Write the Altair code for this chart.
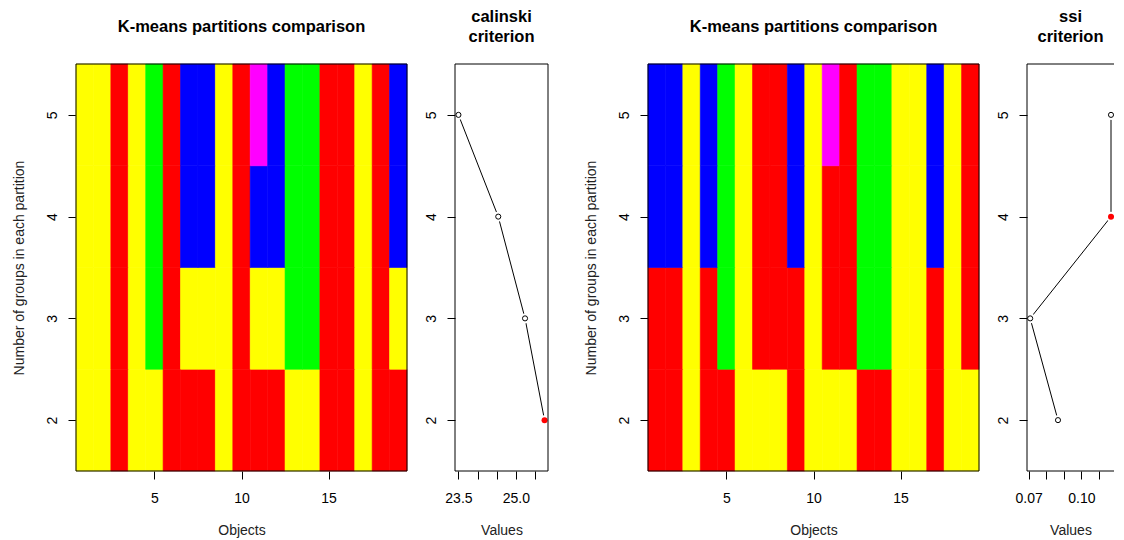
import altair as alt
import pandas as pd

FONT = "Liberation Sans"

# ---------------- data ----------------
objects = list(range(1, 20))
groups = [2, 3, 4, 5]

# cluster colour of every object for k = 2..5 groups (left comparison)
left_k2 = ["Y", "Y", "R", "Y", "Y", "R", "R", "R", "Y", "R", "R", "R", "Y", "Y", "R", "R", "Y", "R", "R"]
left_k3 = ["Y", "Y", "R", "Y", "G", "R", "Y", "Y", "Y", "R", "Y", "Y", "G", "G", "R", "R", "Y", "R", "Y"]
left_k4 = ["Y", "Y", "R", "Y", "G", "R", "B", "B", "Y", "R", "B", "B", "G", "G", "R", "R", "Y", "R", "B"]
left_k5 = ["Y", "Y", "R", "Y", "G", "R", "B", "B", "Y", "R", "M", "B", "G", "G", "R", "R", "Y", "R", "B"]

# cluster colour of every object for k = 2..5 groups (right comparison)
right_k2 = ["R", "R", "Y", "R", "R", "Y", "Y", "Y", "R", "Y", "Y", "Y", "R", "R", "Y", "Y", "R", "Y", "Y"]
right_k3 = ["R", "R", "Y", "R", "G", "Y", "R", "R", "R", "Y", "R", "R", "G", "G", "Y", "Y", "R", "Y", "R"]
right_k4 = ["B", "B", "Y", "B", "G", "Y", "R", "R", "B", "Y", "R", "R", "G", "G", "Y", "Y", "B", "Y", "R"]
right_k5 = ["B", "B", "Y", "B", "G", "Y", "R", "R", "B", "Y", "M", "R", "G", "G", "Y", "Y", "B", "Y", "R"]

colour_keys = ["R", "Y", "G", "B", "M"]
colour_values = ["#FF0000", "#FFFF00", "#00FF00", "#0000FF", "#FF00FF"]

calinski_values = [25.75, 25.24, 24.54, 23.50]   # k = 2, 3, 4, 5
calinski_best = 2
calinski_ticks = [23.5, 24.0, 24.5, 25.0, 25.5]
calinski_tick_labels = ["23.5", "", "", "25.0", ""]
calinski_domain = [23.41, 25.84]

ssi_values = [0.0867, 0.0709, 0.1168, 0.1168]    # k = 2, 3, 4, 5
ssi_best = 4
ssi_ticks = [0.07, 0.08, 0.09, 0.10, 0.11]
ssi_tick_labels = ["0.07", "", "", "0.10", ""]
ssi_domain = [0.0691, 0.1185]

object_ticks = [5, 10, 15]

# ---------------- layout constants ----------------
PLOT_H = 407
HEAT_W = 331
CAL_W = 93
SSI_W = 87
GAP = 48
SPACER_W = 4
X_TITLE_Y = 63


def label_expr(ticks, labels):
    expr = "''"
    for t, l in reversed(list(zip(ticks, labels))):
        expr = f"abs(datum.value - {t}) < 1e-9 ? '{l}' : ({expr})"
    return expr


def y_axis(with_title):
    kw = dict(values=groups, format="d", labelAngle=270, labelAlign="center",
              labelBaseline="alphabetic", labelPadding=12, tickSize=8)
    if with_title:
        kw.update(title="Number of groups in each partition", titleX=-57, titleY=PLOT_H / 2,
                  titleAngle=270, titleAlign="center", titleBaseline="middle")
    else:
        kw.update(title=None)
    return alt.Axis(**kw)


def x_axis(values, title, width, expr=None):
    kw = dict(values=values, labelBaseline="alphabetic", labelPadding=23.5, tickSize=8,
              labelAlign="center", title=title, titleX=width / 2, titleY=X_TITLE_Y,
              titleAlign="center", titleBaseline="alphabetic")
    if expr is not None:
        kw["labelExpr"] = expr
    else:
        kw["format"] = "d"
    return alt.Axis(**kw)


def frame(width):
    return alt.Chart(alt.Data(values=[{"f": 1}])).mark_rect(
        filled=False, stroke="black", strokeWidth=1
    ).encode(x=alt.value(0), x2=alt.value(width), y=alt.value(0), y2=alt.value(PLOT_H))


def heat_panel(rows_by_k):
    records = []
    for k, row in zip(groups, rows_by_k):
        for obj, c in zip(objects, row):
            records.append({"obj": obj, "k": k, "cl": c})
    df = pd.DataFrame(records)
    rects = alt.Chart(df).transform_calculate(
        x0="datum.obj - 0.5", x1="datum.obj + 0.5",
        y0="datum.k - 0.5", y1="datum.k + 0.5",
    ).mark_rect(strokeWidth=0.6).encode(
        x=alt.X("x0:Q", scale=alt.Scale(domain=[0.5, 19.5], nice=False, zero=False),
                axis=x_axis(object_ticks, "Objects", HEAT_W)),
        x2="x1:Q",
        y=alt.Y("y0:Q", scale=alt.Scale(domain=[1.5, 5.5], nice=False, zero=False),
                axis=y_axis(True)),
        y2="y1:Q",
        color=alt.Color("cl:N", scale=alt.Scale(domain=colour_keys, range=colour_values), legend=None),
        stroke=alt.Stroke("cl:N", scale=alt.Scale(domain=colour_keys, range=colour_values), legend=None),
    )
    return alt.layer(rects, frame(HEAT_W)).properties(
        width=HEAT_W, height=PLOT_H,
        title=alt.TitleParams(text="K-means partitions comparison", font=FONT, fontSize=16.5,
                              fontWeight="bold", color="black", anchor="middle", frame="group",
                              baseline="bottom", offset=12),
    )


def crit_panel(values, best, ticks, tick_labels, domain, name, width, open_right):
    df = pd.DataFrame({"k": groups, "v": values, "best": [k == best for k in groups]})
    base = alt.Chart(df).encode(
        x=alt.X("v:Q", scale=alt.Scale(domain=domain, nice=False, zero=False),
                axis=x_axis(ticks, "Values", width, label_expr(ticks, tick_labels))),
        y=alt.Y("k:Q", scale=alt.Scale(domain=[1.5, 5.5], nice=False, zero=False),
                axis=y_axis(False)),
    )
    line = base.mark_line(color="black", strokeWidth=1, clip=True).encode(order="k:Q")
    gaps = base.mark_point(shape="circle", filled=True, color="white", size=100,
                           opacity=1, strokeWidth=0, clip=True)
    opens = base.transform_filter("!datum.best").mark_point(
        shape="circle", filled=False, color="black", size=26, strokeWidth=1, opacity=1, clip=True)
    bestpt = base.transform_filter("datum.best").mark_point(
        shape="circle", filled=True, color="red", size=36, opacity=1, clip=True)
    layers = [line, gaps, opens, bestpt]
    if open_right:
        one = alt.Data(values=[{"f": 1}])
        layers += [
            alt.Chart(one).mark_rule(color="black", strokeWidth=1).encode(
                x=alt.value(0), x2=alt.value(width), y=alt.value(0)),
            alt.Chart(one).mark_rule(color="black", strokeWidth=1).encode(
                x=alt.value(0), x2=alt.value(width), y=alt.value(PLOT_H)),
            alt.Chart(one).mark_rule(color="black", strokeWidth=1).encode(
                x=alt.value(0), y=alt.value(0), y2=alt.value(PLOT_H)),
        ]
    else:
        layers.append(frame(width))
    return alt.layer(*layers).properties(
        width=width, height=PLOT_H,
        title=alt.TitleParams(text=[name, "criterion"], font=FONT, fontSize=16.5,
                              fontWeight="bold", color="black", anchor="middle", frame="group",
                              baseline="bottom", offset=2, lineHeight=20.5),
    )


heat_left = heat_panel([left_k2, left_k3, left_k4, left_k5])
heat_right = heat_panel([right_k2, right_k3, right_k4, right_k5])
cal = crit_panel(calinski_values, calinski_best, calinski_ticks, calinski_tick_labels,
                 calinski_domain, "calinski", CAL_W, False)
ssi = crit_panel(ssi_values, ssi_best, ssi_ticks, ssi_tick_labels,
                 ssi_domain, "ssi", SSI_W, True)
spacer = alt.Chart(alt.Data(values=[{"f": 1}])).mark_point(opacity=0).properties(
    width=SPACER_W, height=PLOT_H)

chart = alt.hconcat(heat_left, cal, spacer, heat_right, ssi, spacing=GAP, bounds="flush").properties(
    padding={"left": 3, "top": 0, "right": 0, "bottom": 0},
    background="white",
).configure_view(
    stroke="transparent"
).configure_axis(
    labelFont=FONT, titleFont=FONT, labelFontSize=14, titleFontSize=14,
    titleFontWeight="normal", labelColor="black", titleColor="#222222",
    tickColor="black", tickWidth=1, domain=False, grid=False,
    labelFlush=False, labelOverlap=False,
)

chart.save("out.html", embed_options={"renderer": "svg", "actions": False})
